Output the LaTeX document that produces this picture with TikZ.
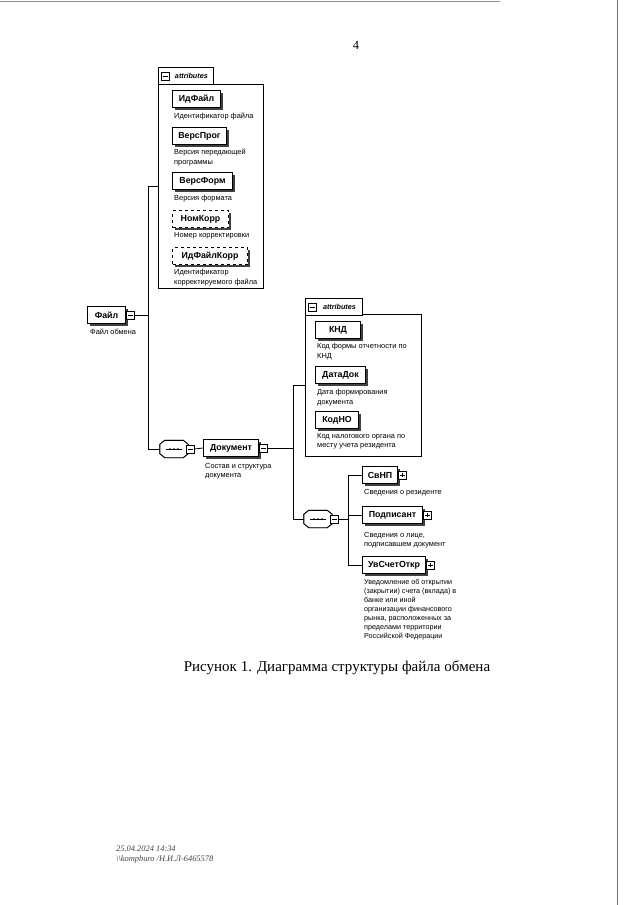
\documentclass[tikz,border=0pt]{standalone}
\usepackage{fontspec}
\setmainfont{Liberation Serif}
\newfontfamily\arial{Liberation Sans}
\usetikzlibrary{shadows}
\newcommand\seqpath[1]{([xshift=5pt]#1.north west) -- ([xshift=-5pt]#1.north east) --
      ([yshift=-4pt]#1.north east) -- ([yshift=4pt]#1.south east) --
      ([xshift=-5pt]#1.south east) -- ([xshift=5pt]#1.south west) --
      ([yshift=4pt]#1.south west) -- ([yshift=-4pt]#1.north west) -- cycle}
\newcommand\seqsym[1]{%
  \path[line width=0.9pt,fill=black!75,draw=black!75,shift={(2,2)}] \seqpath{#1};
  \path[line width=0.9pt,fill=white,draw=black] \seqpath{#1};
  \draw[line width=0.7pt] ([xshift=-8pt]#1.center) -- ([xshift=8pt]#1.center);
  \foreach \d in {-4,0,4} \fill ([xshift=\d pt]#1.center) circle (1pt);
}
\begin{document}
\begin{tikzpicture}[x=1pt,y=-1pt,
  shd/.style={drop shadow={shadow xshift=2pt,shadow yshift=-2pt,fill=black!75,opacity=1}},
  el/.style={draw,fill=white,line width=1pt,inner sep=0pt,minimum height=17pt,anchor=west,
    font=\arial\bfseries\fontsize{8.8}{9}\selectfont,shd},
  opt/.style={el,dashed},
  desc/.style={anchor=north west,inner sep=0pt,align=left,font=\arial\fontsize{7.4}{9.5}\selectfont},
  sbox/.style={draw,fill=white,minimum size=8pt,inner sep=0pt,line width=0.7pt,anchor=west},
  mbox/.style={sbox,path picture={\draw[line width=0.7pt]
     ([xshift=1.6pt]path picture bounding box.west)--([xshift=-1.6pt]path picture bounding box.east);}},
  pbox/.style={sbox,path picture={\draw[line width=0.7pt]
     ([xshift=1.6pt]path picture bounding box.west)--([xshift=-1.6pt]path picture bounding box.east)
     ([yshift=-1.6pt]path picture bounding box.north)--([yshift=1.6pt]path picture bounding box.south);}},
  abox/.style={draw,fill=white,line width=0.8pt,inner sep=0pt,anchor=north west},
  atab/.style={draw,fill=white,line width=0.8pt,inner sep=0pt,anchor=north west,minimum height=17pt,
    font=\arial\bfseries\itshape\fontsize{7.2}{8}\selectfont},
  seq/.style={inner sep=0pt,minimum width=28pt,minimum height=17pt},
  conn/.style={line width=0.8pt}
]
\useasboundingbox (0,0) rectangle (640,905);
% scan edges
\draw[black!45,line width=0.5pt] (0,1.5) -- (500,1.5);
\draw[black!55,line width=0.6pt] (617.5,0) -- (617.5,905);

\node[font=\fontsize{12.5}{14}\selectfont] (pg) at (356,45) {4};

% ---------- attributes A ----------
\node[abox,minimum width=105pt,minimum height=204pt] (attrA) at (158,84) {};
\node[atab,minimum width=55pt] (tabA) at (158,67) {\hspace*{13pt}attributes\hspace*{2pt}};
\node[mbox] (tabAm) at ([xshift=3pt]tabA.west) {};

\node[el,minimum width=48pt] (idf) at (172,99) {ИдФайл};
\node[desc] (didf) at (174,113) {Идентификатор файла};
\node[el,minimum width=54pt] (vprog) at (172,136) {ВерсПрог};
\node[desc] (dvprog) at (174,149) {Версия передающей\\программы};
\node[el,minimum width=60pt] (vform) at (172,181) {ВерсФорм};
\node[desc] (dvform) at (174,195) {Версия формата};
\node[opt,minimum width=56pt] (nkorr) at (172,219) {НомКорр};
\node[desc] (dnkorr) at (174,232) {Номер корректировки};
\node[opt,minimum width=75pt] (idfk) at (172,256) {ИдФайлКорр};
\node[desc] (didfk) at (174,269) {Идентификатор\\корректируемого файла};

% ---------- Файл ----------
\node[el,minimum width=38pt] (fail) at (87,315) {Файл};
\node[mbox] (failm) at (fail.east) {};
\node[desc] (dfail) at (90,329) {Файл обмена};

\coordinate (v1) at (148,315);
\draw[conn] (failm.east) -- (v1);
\draw[conn] (v1) |- (attrA.west);

% ---------- sequence 1 ----------
\node[seq] (seq1) at (174,449) {};
\seqsym{seq1}
\node[mbox,anchor=center] (seq1m) at ([xshift=2pt]seq1.east) {};
\draw[conn] (v1) |- (seq1.west);

% ---------- Документ ----------
\node[el,minimum width=55pt] (doc) at (203,448) {Документ};
\node[mbox] (docm) at (doc.east) {};
\node[desc] (ddoc) at (205,463) {Состав и структура\\документа};
\draw[conn] (seq1m.east) -- (doc.west);

\coordinate (v2) at (293,448);
\draw[conn] (docm.east) -- (v2);

% ---------- attributes B ----------
\node[abox,minimum width=116pt,minimum height=142pt] (attrB) at (305,314) {};
\node[atab,minimum width=57pt] (tabB) at (305,298) {\hspace*{13pt}attributes\hspace*{2pt}};
\node[mbox] (tabBm) at ([xshift=3pt]tabB.west) {};
\draw[conn] (v2) |- (attrB.west);

\node[el,minimum width=45pt] (knd) at (315,330) {КНД};
\node[desc] (dknd) at (317,343) {Код формы отчетности по\\КНД};
\node[el,minimum width=50pt] (datadok) at (315,375) {ДатаДок};
\node[desc] (ddatadok) at (317,389) {Дата формирования\\документа};
\node[el,minimum width=43pt] (kodno) at (315,420) {КодНО};
\node[desc] (dkodno) at (317,433) {Код налогового органа по\\месту учета резидента};

% ---------- sequence 2 ----------
\node[seq] (seq2) at (318,519) {};
\seqsym{seq2}
\node[mbox,anchor=center] (seq2m) at ([xshift=2pt]seq2.east) {};
\draw[conn] (v2) |- (seq2.west);

\coordinate (v3) at (348,519);
\draw[conn] (seq2m.east) -- (v3);

\node[el,minimum width=35pt] (svnp) at (362,475) {СвНП};
\node[pbox] (svnpp) at (svnp.east) {};
\node[desc] (dsvnp) at (364,489) {Сведения о резиденте};
\node[el,minimum width=60pt] (podp) at (362,515) {Подписант};
\node[pbox] (podpp) at (podp.east) {};
\node[desc] (dpodp) at (364,532) {Сведения о лице,\\подписавшем документ};
\node[el,minimum width=63pt] (uvs) at (362,565) {УвСчетОткр};
\node[pbox] (uvsp) at (uvs.east) {};
\node[desc,font=\arial\fontsize{7.2}{9}\selectfont] (duvs) at (364,579) {Уведомление об открытии\\(закрытии) счета (вклада) в\\банке или иной\\организации финансового\\рынка, расположенных за\\пределами территории\\Российской Федерации};

\draw[conn] (v3) |- (svnp.west);
\draw[conn] (v3) |- (podp.west);
\draw[conn] (v3) |- (uvs.west);

% ---------- caption & footer ----------
\node[font=\fontsize{15}{18}\selectfont] (cap) at (337,668) {Рисунок 1. Диаграмма структуры файла обмена};
\node[anchor=north west,inner sep=0pt,align=left,font=\itshape\fontsize{8.4}{9.5}\selectfont,black!75] (foot) at (116,846)
  {25.04.2024 14:34\\\textbackslash\textbackslash kompburo /Н.И.Л-6465578};
\end{tikzpicture}
\end{document}
